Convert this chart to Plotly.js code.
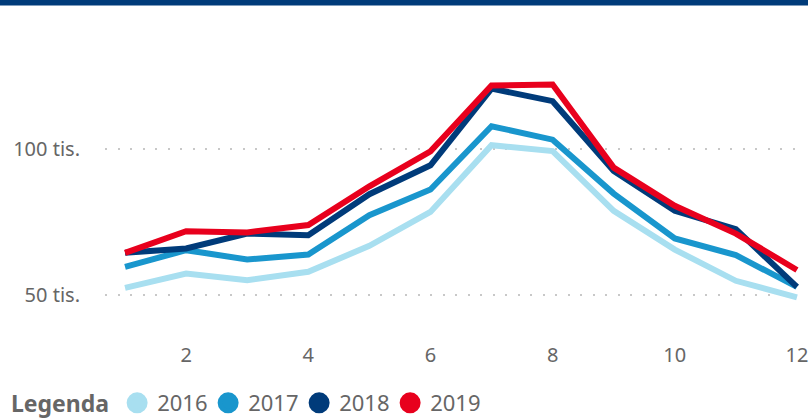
<!DOCTYPE html>
<html>
<head>
<meta charset="utf-8">
<script src="https://cdn.plot.ly/plotly-3.0.1.min.js"></script>
<style>
html,body{margin:0;padding:0;background:#fff;}
#chart{width:810px;height:418px;}
</style>
</head>
<body>
<div id="chart"></div>
<script>
const months = [1,2,3,4,5,6,7,8,9,10,11,12];
const years = ["2016","2017","2018","2019"];
const colors = ["#a8dff0","#1996cd","#003b7a","#e8001d"];
const v2016 = [52.5,57.4,55.1,58.0,66.9,78.5,101.4,99.4,78.9,65.6,54.9,49.2];
const v2017 = [59.7,65.4,62.2,63.9,77.4,86.2,107.9,103.3,84.8,69.4,63.7,52.8];
const v2018 = [64.5,66.0,71.1,70.5,84.6,94.5,120.8,116.5,92.6,78.9,72.6,52.8];
const v2019 = [64.5,71.9,71.5,74.0,87.3,99.3,121.9,122.2,93.7,80.6,71.1,58.6];
const series = [v2016,v2017,v2018,v2019];
const yTickVals = [50,100];
const yTickText = ["50 tis.","100 tis."];
const xTickVals = [2,4,6,8,10,12];

const traces = [];
series.forEach((vals,i)=>{
  traces.push({
    x: months, y: vals.map(v=>v*1000), type:'scatter', mode:'lines',
    line:{color:colors[i], width:6},
    name: years[i], showlegend:false, hoverinfo:'skip'
  });
});
years.forEach((yr,i)=>{
  traces.push({
    x:[null], y:[null], type:'scatter', mode:'markers',
    marker:{color:colors[i], size:16, symbol:'circle', line:{color:colors[i], width:5}},
    name: yr, showlegend:true
  });
});

const L=105, R=10, T=30, B=85, W=810, H=418;
const pw=W-L-R, ph=H-T-B;
const layout = {
  width:W, height:H,
  margin:{l:L, r:R, t:T, b:B, autoexpand:false},
  paper_bgcolor:'#fff', plot_bgcolor:'#fff',
  font:{family:'"Noto Sans", "Open Sans", sans-serif', color:'#666666', size:20},
  xaxis:{
    range:[0.672,12.05], tickvals:xTickVals, showgrid:false, zeroline:false,
    showline:false, ticks:'outside', ticklen:4, tickcolor:'rgba(0,0,0,0)',
    tickfont:{size:20, color:'#666666'}, fixedrange:true
  },
  yaxis:{
    range:[37000,140900], tickvals:yTickVals.map(v=>v*1000), ticktext:yTickText,
    showgrid:true, gridcolor:'#c8c8c8', gridwidth:2, griddash:'2px,10.5px',
    zeroline:false, showline:false, ticks:'outside', ticklen:20,
    tickcolor:'rgba(0,0,0,0)', tickfont:{size:20, color:'#666666'}, fixedrange:true
  },
  legend:{
    orientation:'h', xref:'container', yref:'container',
    x:9/W, xanchor:'left', y:(H-403)/H, yanchor:'middle',
    title:{text:'<b>Legenda</b>', font:{size:23, color:'#666666'}, side:'left'},
    font:{size:22, color:'#666666'}, itemsizing:'trace', itemwidth:30,
    entrywidth:46, entrywidthmode:'pixels',
    traceorder:'normal', bgcolor:'rgba(0,0,0,0)'
  },
  shapes:[{
    type:'rect', xref:'paper', yref:'paper',
    x0:-L/pw, x1:(W-2-L)/pw, y0:(T+ph-0)/ph, y1:(T+ph-5.5)/ph,
    fillcolor:'#003b7a', line:{width:0}
  }],
  showlegend:true
};
Plotly.newPlot('chart', traces, layout, {displayModeBar:false, staticPlot:true});
</script>
</body>
</html>
